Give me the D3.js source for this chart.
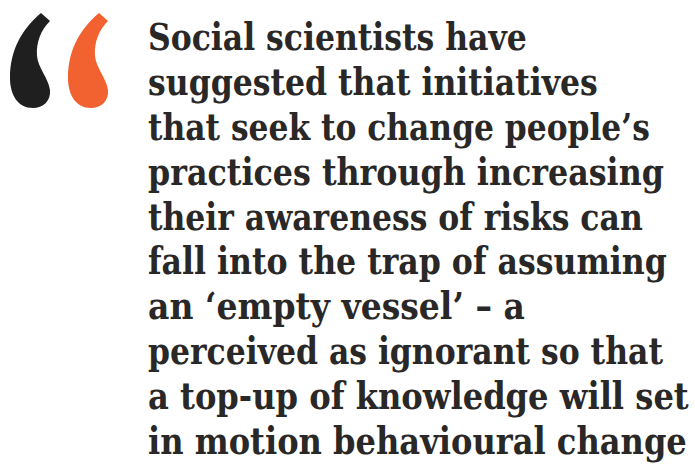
<!DOCTYPE html>
<html>
<head>
<meta charset="utf-8">
<script src="https://cdn.jsdelivr.net/npm/d3@7"></script>
<style>
  html, body { margin: 0; padding: 0; background: #ffffff; }
  svg { display: block; }
</style>
</head>
<body>
<svg id="chart" width="695" height="464"></svg>
<script>
const quoteLines = [
  "Social scientists have",
  "suggested that initiatives",
  "that seek to change people\u2019s",
  "practices through increasing",
  "their awareness of risks can",
  "fall into the trap of assuming",
  "an \u2018empty vessel\u2019 \u2013 a",
  "perceived as ignorant so that",
  "a top-up of knowledge will set",
  "in motion behavioural change"
];
const quoteMarkColors = ["#1f1f1f", "#f26130"];

// layout (right edge of each rendered line, in px)
const lineRightEdges = [527, 598, 650, 664, 643, 667, 525, 663, 689, 687];

const svg = d3.select("#chart");
const textLeft = 148;

const y = d3.scaleLinear().domain([0, quoteLines.length - 1]).range([50, 454]);
const markX = d3.scaleLinear().domain([0, 1]).range([0, 58]);

const markPath = "M41,13 L50,21 C41,30 36,42 37,56 C38,68 48,77 50,90 C51,101 43,108 33,108 C18,108 10,95 10,78 C10,50 22,29 41,13 Z";

svg.selectAll("path.mark")
  .data(quoteMarkColors)
  .join("path")
  .attr("class", "mark")
  .attr("d", markPath)
  .attr("transform", (d, i) => `translate(${markX(i)},0)`)
  .attr("fill", d => d);

const texts = svg.selectAll("text.line")
  .data(quoteLines)
  .join("text")
  .attr("class", "line")
  .attr("x", 0)
  .attr("y", 0)
  .attr("font-family", "'DejaVu Serif', serif")
  .attr("font-weight", "bold")
  .attr("font-size", 38)
  .attr("fill", "#2a2727")
  .text(d => d);

texts.each(function(d, i) {
  const w = this.getComputedTextLength();
  const sx = (lineRightEdges[i] - textLeft) / w;
  d3.select(this).attr("transform", `translate(${textLeft},${y(i)}) scale(${sx},1)`);
});
</script>
</body>
</html>
